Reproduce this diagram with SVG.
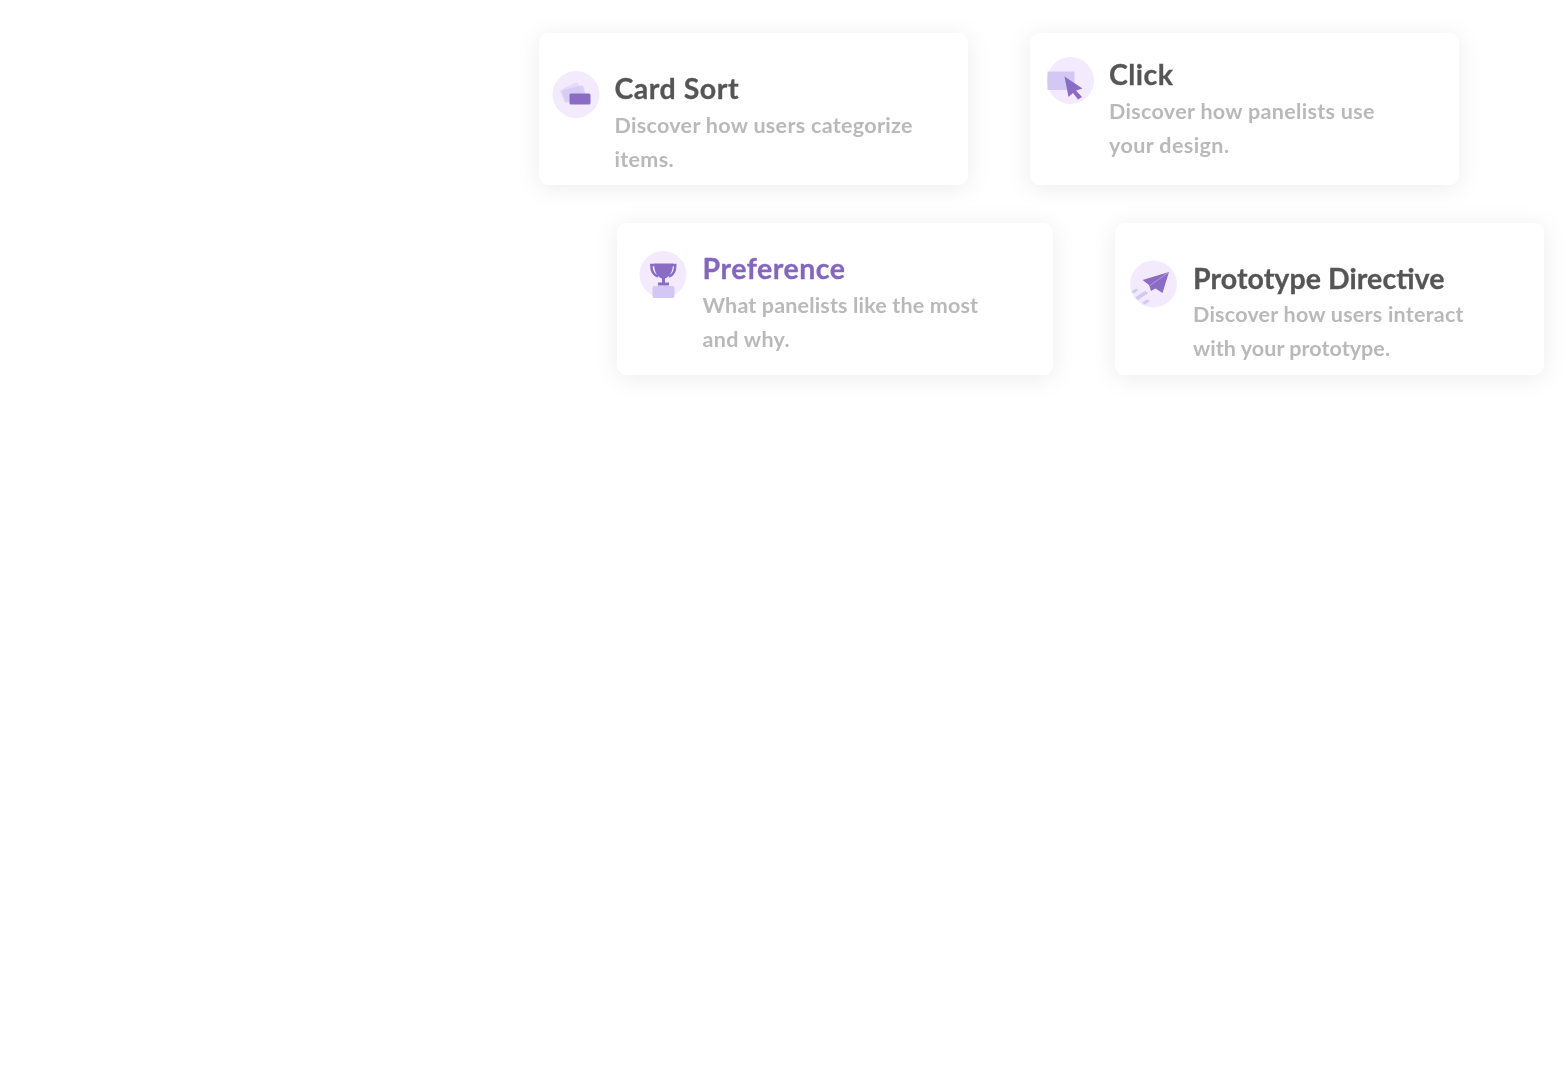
<svg xmlns="http://www.w3.org/2000/svg" width="1568" height="1076" viewBox="0 0 1568 1076">
<style>
text{font-family:"Lato","Liberation Sans",sans-serif;font-weight:700;filter:url(#soft)}
.card{fill:#fff;filter:url(#sh)}
.t{font-size:28.500px;fill:#555;stroke:#555;stroke-width:.3}
.a{fill:#8466bf;stroke:#8466bf}
.d{font-size:21.500px;fill:#b9b9b9}
.bg{fill:#f3ebfd}
.p{fill:#8a6cc4}
.l{fill:#d3c8f3}
.m{fill:#e3dcf8}
.i{filter:url(#soft)}
</style>
<defs>
<filter id="sh" x="-15%" y="-35%" width="130%" height="170%"><feDropShadow dx="0" dy="3" stdDeviation="11" flood-color="#000" flood-opacity=".075"/></filter>
<filter id="soft" x="-5%" y="-20%" width="110%" height="140%"><feGaussianBlur stdDeviation=".45"/></filter>
</defs>
<rect width="1568" height="1076" fill="#fff"/>
<g id="connectors"/>
<g id="card-sort">
<rect class="card" x="539" y="33" width="429" height="152" rx="11"/>
<g class="i">
<circle class="bg" cx="576" cy="94.500" r="23.500"/>
<rect class="m" x="561" y="85.500" width="20" height="12" rx="2" transform="rotate(-27 571 91.500)"/>
<rect class="l" x="563" y="87.500" width="22" height="13" rx="2" transform="rotate(-14 574 94)" fill-opacity=".8"/>
<rect class="p" x="569.500" y="93.500" width="21" height="11" rx="1.500"/>
</g>
<text class="t" x="614.500" y="98.500" textLength="124">Card Sort</text>
<text class="d" x="614.500" y="132.500" textLength="298">Discover how users categorize</text>
<text class="d" x="614.500" y="166.500" textLength="59">items.</text>
</g>
<g id="click">
<rect class="card" x="1030" y="33" width="429" height="152" rx="11"/>
<g class="i">
<circle class="bg" cx="1070.500" cy="80.500" r="23.500"/>
<rect class="l" x="1047.500" y="71.500" width="27" height="18.500"/>
<path class="p" d="M1064.500 76.500L1082.500 88.500L1076 90.500L1082 97L1078 99.500L1073 93L1068.500 97Z"/>
</g>
<text class="t" x="1109" y="84.500" textLength="64">Click</text>
<text class="d" x="1109" y="118.500" textLength="265.500">Discover how panelists use</text>
<text class="d" x="1109" y="152.500" textLength="120">your design.</text>
</g>
<g id="preference">
<rect class="card" x="617" y="223" width="436" height="152" rx="11"/>
<g class="i">
<circle class="bg" cx="663" cy="274.500" r="23.500"/>
<rect class="l" x="652.500" y="286" width="22" height="12" rx="2"/>
<path fill="none" stroke="#8a6cc4" stroke-width="2.500" d="M654 265H651.300C651.300 271 653.500 275 658 276.500M672 265H675.300C675.300 271 673.500 275 669 276.500"/>
<path class="p" d="M654 263.500H673C673 271 670 277 665 278.500V282.500H669V285.500H658V282.500H662V278.500C657 277 654 271 654 263.500Z"/>
</g>
<text class="t a" x="702.500" y="278.500" textLength="142.500">Preference</text>
<text class="d" x="702.500" y="312.500" textLength="275.500">What panelists like the most</text>
<text class="d" x="702.500" y="346.500" textLength="87">and why.</text>
</g>
<g id="prototype-directive">
<rect class="card" x="1115" y="223" width="429" height="152" rx="11"/>
<g class="i">
<circle class="bg" cx="1153.500" cy="284" r="23.500"/>
<path class="p" d="M1169 272L1142.500 280L1149 285L1151 291L1155.500 288.500L1162.500 293Z"/>
<path fill="none" stroke="#b9a6e6" stroke-width=".8" d="M1169 272L1150 285.500"/>
<path class="l" d="M1131.500 291.500L1136 288.500L1138.500 290L1134 293.500ZM1135 297.500L1145 291L1148.500 293L1138 300ZM1142 303L1147 299.500L1150 301L1145 304.500Z"/>
</g>
<text class="t" x="1193" y="288.500" textLength="251.500">Prototype Directive</text>
<text class="d" x="1193" y="322" textLength="270.500">Discover how users interact</text>
<text class="d" x="1193" y="356" textLength="197">with your prototype.</text>
</g>
</svg>
